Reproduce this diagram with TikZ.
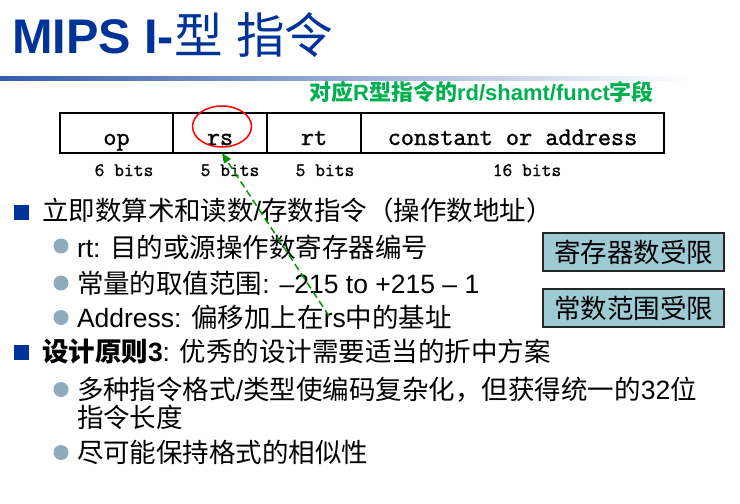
\documentclass[tikz,border=0pt]{standalone}
\usepackage{fontspec}
\setmainfont{Liberation Sans}
\newfontfamily\cjk{Noto Sans CJK SC}
\newfontfamily\monofnt[FakeBold=1.2]{Latin Modern Mono}
\usetikzlibrary{shapes.geometric,arrows.meta}
\definecolor{titleblue}{RGB}{0,51,153}
\definecolor{bargreen}{RGB}{0,176,80}
\definecolor{bulletgray}{RGB}{143,170,188}
\definecolor{boxteal}{RGB}{158,202,212}
\definecolor{arrowgreen}{RGB}{0,150,0}
\newcommand\bodysize{\fontsize{26.5pt}{31pt}\selectfont}
\tikzset{
  txt/.style={anchor=base west,inner sep=0pt,outer sep=0pt,font=\bodysize},
  field/.style={draw=black,line width=1.6pt,rectangle,minimum height=40pt,inner sep=0pt,outer sep=0pt},
  fieldtext/.style={anchor=base,inner sep=0pt,font=\monofnt\fontsize{25.5pt}{28pt}\selectfont},
  bitstext/.style={anchor=base,inner sep=0pt,font=\monofnt\fontsize{19pt}{22pt}\selectfont},
  sqbullet/.style={rectangle,fill=titleblue,minimum size=15pt,inner sep=0pt},
  circbullet/.style={circle,fill=bulletgray,minimum size=15pt,inner sep=0pt},
  limitbox/.style={draw=black!85,line width=1.2pt,fill=boxteal,minimum width=181pt,minimum height=38pt,inner sep=0pt,font=\bodysize\cjk},
  greenarrow/.style={draw=arrowgreen,line width=1.5pt,dash pattern=on 7pt off 4pt,-{Triangle[length=10pt,width=8pt]}},
}
\begin{document}
\begin{tikzpicture}[x=1pt,y=-1pt]
\useasboundingbox (0,0) rectangle (740,504);
\fill[white] (0,0) rectangle (740,504);
% title
\node[anchor=base west,inner sep=0pt,text=titleblue,font=\fontsize{48.6pt}{54pt}\selectfont] (title) at (12,53) {\textbf{MIPS I-}{\cjk 型} {\cjk 指令}};
\shade[left color=titleblue!80!white,right color=white] (0,76) rectangle (690,80.5);
% green caption
\node[anchor=base west,inner sep=0pt,text=bargreen,font=\fontsize{22pt}{26pt}\selectfont\bfseries] (caption) at (309,100) {{\cjk\bfseries 对应}R{\cjk\bfseries 型指令的}rd/shamt/funct{\cjk\bfseries 字段}};
% instruction format
\node[field,minimum width=113pt] (opfield) at (116.5,133) {};
\node[field,minimum width=94pt] (rsfield) at (220,133) {};
\node[field,minimum width=94pt] (rtfield) at (314,133) {};
\node[field,minimum width=303pt] (constfield) at (512.5,133) {};
\node[fieldtext] (optxt) at (116.5,145) {op};
\node[fieldtext] (rstxt) at (220,145) {rs};
\node[fieldtext] (rttxt) at (314,145) {rt};
\node[fieldtext] (consttxt) at (512.5,145) {constant or address};
\node[bitstext] (bitsop) at (124,176) {6 bits};
\node[bitstext] (bitsrs) at (230,176) {5 bits};
\node[bitstext] (bitsrt) at (325,176) {5 bits};
\node[bitstext] (bitsconst) at (527,176) {16 bits};
\node[draw=red,line width=1.5pt,ellipse,minimum width=59pt,minimum height=41pt,inner sep=0pt] (rsmark) at (222,126.5) {};
% bullets
\node[sqbullet] (sq1) at (21,212.5) {};
\node[txt] (l1) at (42,220.5) {{\cjk 立即数算术和读数}/{\cjk 存数指令（操作数地址）}};
\node[circbullet] (c1) at (61,246) {};
\node[txt] (l2) at (77,257) {rt: {\cjk 目的或源操作数寄存器编号}};
\node[circbullet] (c2) at (61,283) {};
\node[txt] (l3) at (77,293.5) {{\cjk 常量的取值范围}: –215 to +215 – 1};
\node[circbullet] (c3) at (61,317.5) {};
\node[txt] (l4) at (77,327.5) {Address: {\cjk 偏移加上在}rs{\cjk 中的基址}};
\node[sqbullet] (sq2) at (21,352.5) {};
\node[txt] (l5) at (42,361) {{\cjk\bfseries 设计原则}\textbf{3}: {\cjk 优秀的设计需要适当的折中方案}};
\node[circbullet] (c4) at (61,389.5) {};
\node[txt] (l6) at (77,399.5) {{\cjk 多种指令格式}/{\cjk 类型使编码复杂化，但获得统一的}32{\cjk 位}};
\node[txt] (l7) at (77,427) {{\cjk 指令长度}};
\node[circbullet] (c5) at (61,452.5) {};
\node[txt] (l8) at (77,462.5) {{\cjk 尽可能保持格式的相似性}};
% right boxes
\node[limitbox] (reglim) at (633.5,252) {寄存器数受限};
\node[limitbox] (constlim) at (633.5,308) {常数范围受限};
% arrow
\coordinate (arrowstart) at (329,316);
\draw[greenarrow] (arrowstart) -- ([xshift=2pt]rsfield.south);
\end{tikzpicture}
\end{document}
